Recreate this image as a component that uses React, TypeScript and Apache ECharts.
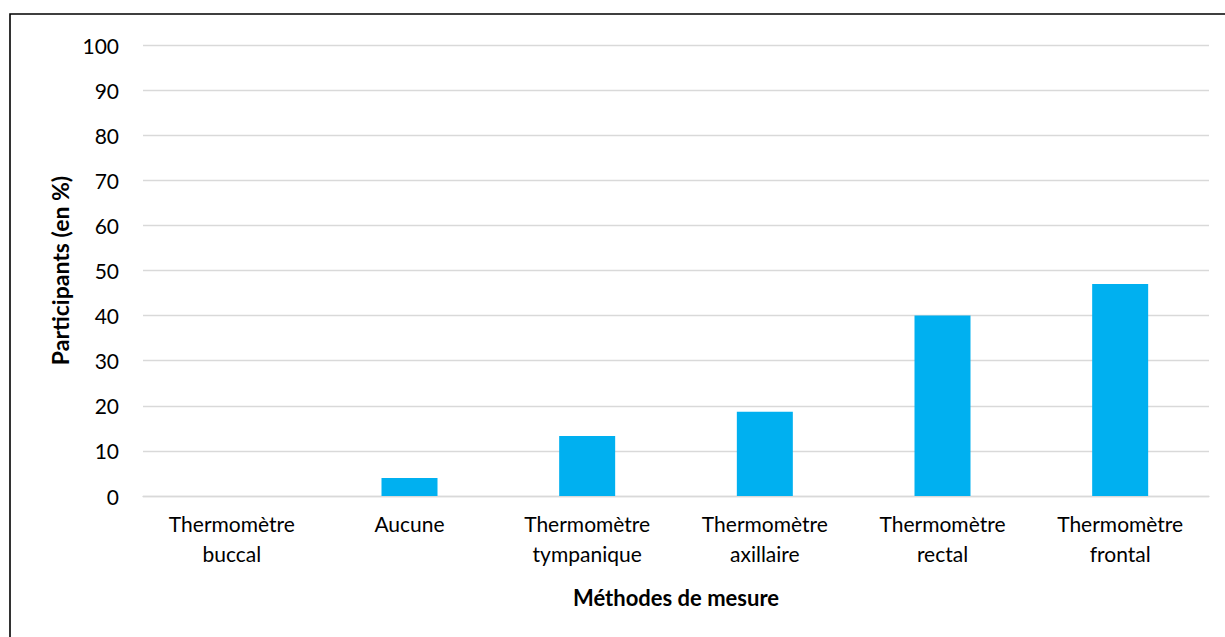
import React, { useEffect, useRef } from "react";
import * as echarts from "echarts";

const categories = [
  "Thermomètre\nbuccal",
  "Aucune",
  "Thermomètre\ntympanique",
  "Thermomètre\naxillaire",
  "Thermomètre\nrectal",
  "Thermomètre\nfrontal",
];
const values = [0, 4, 13.3, 18.7, 40, 47];
const yTitle = "Participants (en %)";
const xTitle = "Méthodes de mesure";

const FONT = "Lato";

export default function App() {
  const ref = useRef<HTMLDivElement>(null);
  useEffect(() => {
    document.body.style.margin = "0";
    const chart = echarts.init(ref.current!, undefined, { renderer: "svg" });
    chart.setOption({
      animation: false,
      backgroundColor: "#ffffff",
      textStyle: { fontFamily: FONT, color: "#000" },
      graphic: [
        {
          type: "rect",
          shape: { x: 10, y: 14, width: 1400, height: 800 },
          style: { fill: "none", stroke: "#000", lineWidth: 1.6 },
          silent: true,
          z: 100,
        },
      ],
      grid: { left: 143, right: 16, top: 45, bottom: 141, containLabel: false },
      xAxis: {
        type: "category",
        data: categories,
        axisLine: { show: true, lineStyle: { color: "#d9d9d9", width: 1.3 } },
        axisTick: { show: false },
        axisLabel: {
          color: "#000",
          fontFamily: FONT,
          fontSize: 21,
          lineHeight: 30,
          margin: 12,
          interval: 0,
        },
        name: xTitle,
        nameLocation: "middle",
        nameGap: 90,
        nameTextStyle: { color: "#000", fontFamily: FONT, fontSize: 22, fontWeight: "bold" },
      },
      yAxis: {
        type: "value",
        min: 0,
        max: 100,
        interval: 10,
        axisLine: { show: false },
        axisTick: { show: false },
        splitLine: { show: true, lineStyle: { color: "#d9d9d9", width: 1.3 } },
        axisLabel: { color: "#000", fontFamily: FONT, fontSize: 21, margin: 24 },
        name: yTitle,
        nameLocation: "middle",
        nameRotate: 90,
        nameGap: 70,
        nameTextStyle: { color: "#000", fontFamily: FONT, fontSize: 23, fontWeight: "bold" },
      },
      series: [
        {
          type: "bar",
          data: values,
          barWidth: 56,
          itemStyle: { color: "#00B0F0" },
        },
      ],
    });
    return () => chart.dispose();
  }, []);
  return <div ref={ref} style={{ width: 1225, height: 637 }} />;
}
